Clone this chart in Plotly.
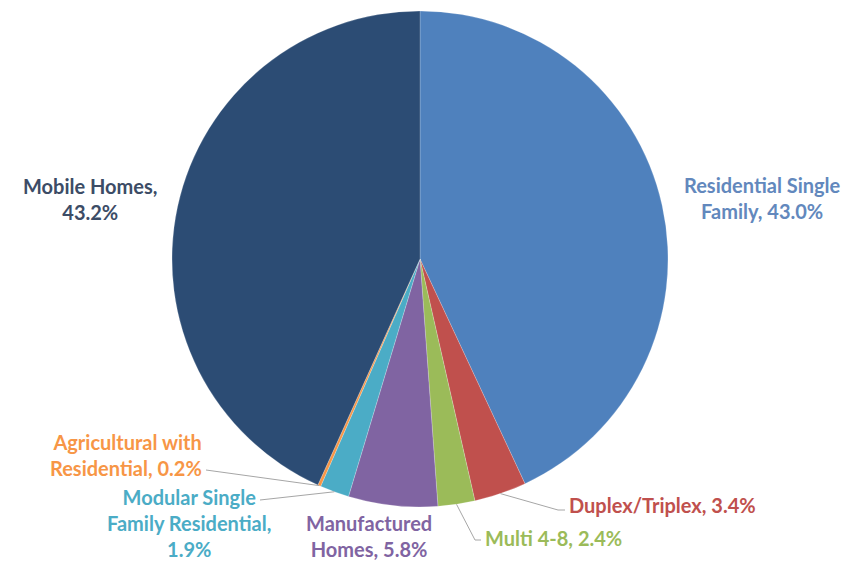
import math
import plotly.graph_objects as go

categories = ["Residential Single Family", "Duplex/Triplex", "Multi 4-8",
              "Manufactured Homes", "Modular Single Family Residential",
              "Agricultural with Residential", "Mobile Homes"]
values = [43.0, 3.4, 2.4, 5.8, 1.9, 0.2, 43.2]
label_texts = ["Residential Single<br>Family, 43.0%", "Duplex/Triplex, 3.4%", "Multi 4-8, 2.4%",
               "Manufactured<br>Homes, 5.8%", "Modular Single<br>Family Residential,<br>1.9%",
               "Agricultural with<br>Residential, 0.2%", "Mobile Homes,<br>43.2%"]
slice_colors = ["#4F81BD", "#C0504D", "#9BBB59", "#8064A2", "#4BACC6", "#F79646", "#2C4C74"]
text_colors = ["#6288BD", "#C0504D", "#9BBB59", "#8064A2", "#4BACC6", "#F79646", "#3C4C66"]

W, H = 854, 561
CX, CY, R = 420, 259, 248

def paper(x, y):
    return x / W, 1 - y / H

fig = go.Figure(go.Pie(
    labels=categories, values=values, sort=False, direction="clockwise", rotation=0,
    marker=dict(colors=slice_colors, line=dict(color="rgba(255,255,255,0.4)", width=0.5)),
    textinfo="none", hoverinfo="none", showlegend=False,
    domain=dict(x=[(CX - R) / W, (CX + R) / W], y=[1 - (CY + R) / H, 1 - (CY - R) / H]),
))

# label anchor positions (pixel) and alignment
label_pos = [(762, 198, "center"), (567, 505, "left"), (483, 538, "left"),
             (369, 536, "center"), (189, 523, "center"), (204, 455, "right"),
             (90, 199, "center")]

annotations = []
for txt, col, (x, y, al) in zip(label_texts, text_colors, label_pos):
    px_, py_ = paper(x, y)
    annotations.append(dict(x=px_, y=py_, xref="paper", yref="paper", text=txt,
                            showarrow=False, xanchor=al, yanchor="middle", align=al,
                            font=dict(family="Lato", size=20, color=col, weight="bold")))

# leader lines from slice mid-angle on the rim to label
total = sum(values)
cum = 0
mids = []
for v in values:
    mids.append((cum + v / 2) / total * 2 * math.pi)
    cum += v

def rim(i):
    a = mids[i]
    return CX + R * math.sin(a), CY - R * math.cos(a)

leaders = {1: [(558, 510), (565, 510)], 2: [(475, 540), (481, 540)],
           4: [(260, 500)], 5: [(206, 470)]}
shapes = []
for i, pts in leaders.items():
    path_pts = [rim(i)] + pts
    for (x0, y0), (x1, y1) in zip(path_pts[:-1], path_pts[1:]):
        a0, b0 = paper(x0, y0)
        a1, b1 = paper(x1, y1)
        shapes.append(dict(type="line", xref="paper", yref="paper", x0=a0, y0=b0, x1=a1, y1=b1,
                           line=dict(color="#A6A6A6", width=1)))

fig.update_layout(width=W, height=H, margin=dict(l=0, r=0, t=0, b=0),
                  paper_bgcolor="white", plot_bgcolor="white",
                  annotations=annotations, shapes=shapes)
fig.write_html("out.html", config={"displayModeBar": False},
               post_script="document.body.style.margin='0px';document.body.style.padding='0px';")
